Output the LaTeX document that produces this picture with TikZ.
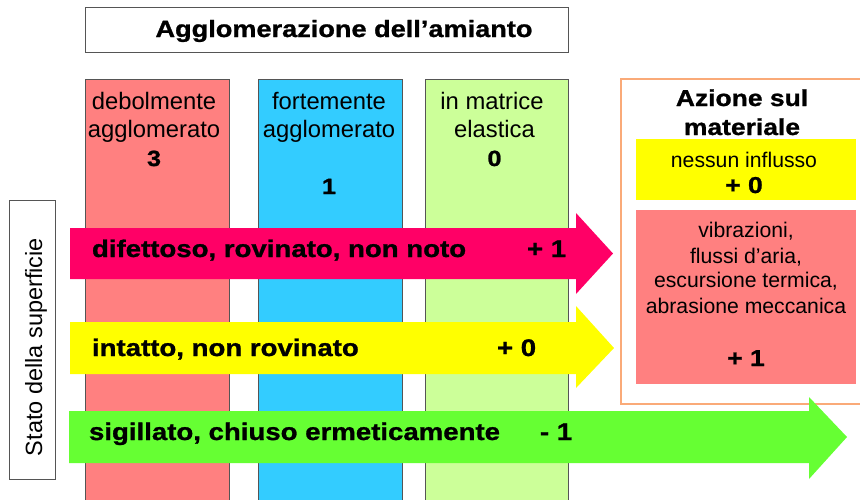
\documentclass[tikz,border=0pt]{standalone}
\usepackage{fontspec}
\setmainfont{Liberation Sans}
\newfontfamily\bk[FakeStretch=1.15,FakeBold=1.1]{Liberation Sans Bold}
\definecolor{colred}{RGB}{255,128,128}
\definecolor{colblue}{RGB}{51,204,255}
\definecolor{colgreen}{RGB}{204,255,153}
\definecolor{arrpink}{RGB}{255,0,102}
\definecolor{arryellow}{RGB}{255,255,0}
\definecolor{arrgreen}{RGB}{102,255,51}
\definecolor{orangeline}{RGB}{250,170,120}
\definecolor{edgegray}{RGB}{85,85,85}
\begin{document}
\begin{tikzpicture}[x=1pt,y=-1pt,
  every node/.style={inner sep=0pt,outer sep=0pt},
  colbox/.style={draw=edgegray,line width=0.9pt},
  reg/.style={anchor=base,font=\fontsize{23.8}{28}\selectfont},
  small/.style={anchor=base,font=\fontsize{21.2}{25}\selectfont},
  bnum/.style={anchor=base,font=\bk\fontsize{22}{26}\selectfont},
  btxt/.style={anchor=base,font=\bk\fontsize{23}{27}\selectfont},
  arrtxt/.style={anchor=base west,font=\bk\fontsize{24}{28}\selectfont}]
\useasboundingbox (0,0) rectangle (860,499);
\fill[white] (0,0) rectangle (860,499);

% title box
\draw[edgegray,line width=0.9pt] (85,7) rectangle (568,52);
\node[btxt,font=\bk\fontsize{23.6}{27}\selectfont] (title) at (344,37) {Agglomerazione dell’amianto};

% columns
\path[colbox,fill=colred]   (85,506) -- (85,79) -- (229,79) -- (229,506);
\path[colbox,fill=colblue]  (258,506) -- (258,79) -- (402,79) -- (402,506);
\path[colbox,fill=colgreen] (425,506) -- (425,79) -- (568,79) -- (568,506);

\node[reg] (c1a) at (154,109) {debolmente};
\node[reg] (c1b) at (154,137) {agglomerato};
\node[bnum] (c1n) at (154,166) {3};

\node[reg] (c2a) at (329,109) {fortemente};
\node[reg] (c2b) at (329,137) {agglomerato};
\node[bnum] (c2n) at (329,194) {1};

\node[reg] (c3a) at (492,109) {in matrice};
\node[reg] (c3b) at (494.5,137) {elastica};
\node[bnum] (c3n) at (494.5,166) {0};

% right panel
\draw[orangeline,line width=1.2pt] (621,79) rectangle (866,404);
\node[btxt] (az1) at (742,106) {Azione sul};
\node[btxt] (az2) at (742,135) {materiale};
\fill[arryellow] (636,139) rectangle (856,200);
\node[small] (ni) at (744,167) {nessun influsso};
\node[btxt] (ni0) at (744,193) {+ 0};
\fill[colred] (636,210) rectangle (856,384);
\node[small] (r1) at (746,237) {vibrazioni,};
\node[small] (r2) at (746,263) {flussi d’aria,};
\node[small] (r3) at (746,287) {escursione termica,};
\node[small] (r4) at (746,313) {abrasione meccanica};
\node[btxt] (r5) at (746,366) {+ 1};

% left label
\draw[edgegray,line width=0.9pt] (9,200) rectangle (55,479);
\node[reg,rotate=90,font=\fontsize{23.5}{28}\selectfont] (stato) at (42,347) {Stato della superficie};

% arrows
\fill[arrpink] (70,228) -- (576,228) -- (576,213) -- (613,253.5) -- (576,294) -- (576,279) -- (70,279) -- cycle;
\node[arrtxt] (a1) at (92,257) {difettoso, rovinato, non noto};
\node[arrtxt] (a1v) at (527,257) {+ 1};

\fill[arryellow] (70,322) -- (576,322) -- (576,306) -- (614,348) -- (576,388) -- (576,374) -- (70,374) -- cycle;
\node[arrtxt] (a2) at (92,356) {intatto, non rovinato};
\node[arrtxt] (a2v) at (497,356) {+ 0};

\fill[arrgreen] (69,411) -- (809,411) -- (809,397) -- (847,437) -- (809,479) -- (809,463) -- (69,463) -- cycle;
\node[arrtxt] (a3) at (89,440) {sigillato, chiuso ermeticamente};
\node[arrtxt] (a3v) at (540,440) {- 1};
\end{tikzpicture}
\end{document}
